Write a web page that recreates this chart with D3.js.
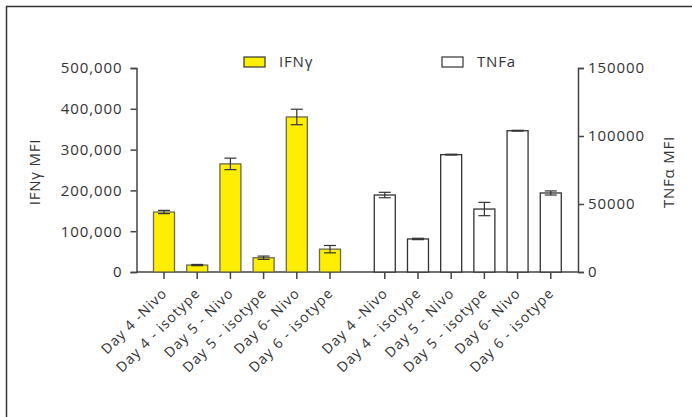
<!DOCTYPE html>
<html>
<head>
<meta charset="utf-8">
<script src="https://cdn.jsdelivr.net/npm/d3@7"></script>
<style>
  body { margin: 0; background: #fff; }
  text { font-family: "Open Sans", sans-serif; fill: #333; }
</style>
</head>
<body>
<div id="chart"></div>
<script>
// data
const categories = ["Day 4 -Nivo", "Day 4 - isotype", "Day 5 - Nivo", "Day 5 - isotype", "Day 6- Nivo", "Day 6 - isotype"];
const ifngValues = [147000, 17000, 265000, 35000, 380000, 56000];
const ifngErrors = [4000, 1500, 14000, 4000, 19000, 9000];
const tnfaValues = [56600, 24300, 86300, 46300, 103900, 58100];
const tnfaErrors = [2000, 500, 300, 4900, 300, 1500];
const leftTicks = [0, 100000, 200000, 300000, 400000, 500000];
const rightTicks = [0, 50000, 100000, 150000];

const W = 692, H = 417;
const svg = d3.select("#chart").append("svg")
  .attr("width", W).attr("height", H);

// frame (top + left only)
svg.append("path")
  .attr("d", `M6.5,${H} V6.5 H${W}`)
  .attr("fill", "none").attr("stroke", "#333").attr("stroke-width", 1.5);

const x0 = 136.5, x1 = 578, yBase = 272, yTop = 68;

// slot positions: left group 0..5, right group after a gap
const slot = d3.scaleLinear().domain([0, 1]).range([164, 197.2]);
const slotOf = (g, i) => g === 0 ? i : i + 6.65;
const barW = 21;

const yL = d3.scaleLinear().domain([0, 500000]).range([yBase, yTop]);
const yR = d3.scaleLinear().domain([0, 150000]).range([yBase, yTop]);

// left axis
const gL = svg.append("g").attr("transform", `translate(${x0},0)`)
  .call(d3.axisLeft(yL).tickValues(leftTicks).tickFormat(d3.format(",")).tickSize(6).tickPadding(8));
// right axis
const gR = svg.append("g").attr("transform", `translate(${x1},0)`)
  .call(d3.axisRight(yR).tickValues(rightTicks).tickFormat(d3.format("d")).tickSize(6).tickPadding(4));
[gL, gR].forEach(g => {
  g.select(".domain").attr("stroke", "#444").attr("stroke-width", 1.5);
  g.selectAll(".tick line").attr("stroke", "#444").attr("stroke-width", 1.5);
  g.selectAll(".tick text").style("font-size", "15px").attr("fill", "#333").attr("letter-spacing", "0.9px");
});

// baseline
svg.append("line")
  .attr("x1", x0).attr("x2", x1).attr("y1", yBase).attr("y2", yBase)
  .attr("stroke", "#444").attr("stroke-width", 1.5);

function drawGroup(g, vals, errs, y, fill) {
  const grp = svg.append("g");
  const d = vals.map((v, i) => ({ v, e: errs[i], cx: slot(slotOf(g, i)), label: categories[i] }));

  grp.selectAll("rect").data(d).enter().append("rect")
    .attr("x", p => p.cx - barW / 2)
    .attr("y", p => y(p.v))
    .attr("width", barW)
    .attr("height", p => yBase - y(p.v))
    .attr("fill", fill)
    .attr("stroke", g === 0 ? "#6b6b4a" : "#333")
    .attr("stroke-width", 1.3);

  // error bars
  const eb = grp.selectAll("g.err").data(d).enter().append("g").attr("class", "err");
  eb.append("line")
    .attr("x1", p => p.cx).attr("x2", p => p.cx)
    .attr("y1", p => y(p.v + p.e)).attr("y2", p => y(p.v - p.e))
    .attr("stroke", "#333").attr("stroke-width", 1.2);
  ["+", "-"].forEach(s => {
    eb.append("line")
      .attr("x1", p => p.cx - 6).attr("x2", p => p.cx + 6)
      .attr("y1", p => y(s === "+" ? p.v + p.e : p.v - p.e))
      .attr("y2", p => y(s === "+" ? p.v + p.e : p.v - p.e))
      .attr("stroke", "#333").attr("stroke-width", 1.2);
  });

  // x ticks
  grp.selectAll("line.xt").data(d).enter().append("line")
    .attr("class", "xt")
    .attr("x1", p => p.cx).attr("x2", p => p.cx)
    .attr("y1", yBase).attr("y2", yBase + 7)
    .attr("stroke", "#444").attr("stroke-width", 1.5);

  // labels
  grp.selectAll("text.xl").data(d).enter().append("text")
    .attr("class", "xl")
    .attr("transform", p => `translate(${p.cx + 4},${yBase + 22}) rotate(-45)`)
    .attr("text-anchor", "end")
    .attr("letter-spacing", "1.1px")
    .style("font-size", "14px")
    .text(p => p.label);
}

drawGroup(0, ifngValues, ifngErrors, yL, "#FFEE00");
drawGroup(1, tnfaValues, tnfaErrors, yR, "#fff");

// axis titles
svg.append("text")
  .attr("transform", `translate(40,172) rotate(-90)`)
  .attr("text-anchor", "middle")
  .attr("letter-spacing", "0.8px")
  .style("font-size", "15px")
  .text("IFNγ MFI");
svg.append("text")
  .attr("transform", `translate(674,172) rotate(-90)`)
  .attr("text-anchor", "middle")
  .attr("letter-spacing", "0.8px")
  .style("font-size", "15px")
  .text("TNFα MFI");

// legend
const legend = [
  { name: "IFNγ", fill: "#FFEE00", x: 244 },
  { name: "TNFa", fill: "#fff", x: 442 }
];
const lg = svg.selectAll("g.lg").data(legend).enter().append("g")
  .attr("transform", d => `translate(${d.x},57)`);
lg.append("rect").attr("width", 21).attr("height", 10)
  .attr("fill", d => d.fill).attr("stroke", "#333").attr("stroke-width", 1.2);
lg.append("text").attr("x", 35).attr("y", 10)
  .style("font-size", "15px").attr("letter-spacing", "0.8px")
  .text(d => d.name);
</script>
</body>
</html>
